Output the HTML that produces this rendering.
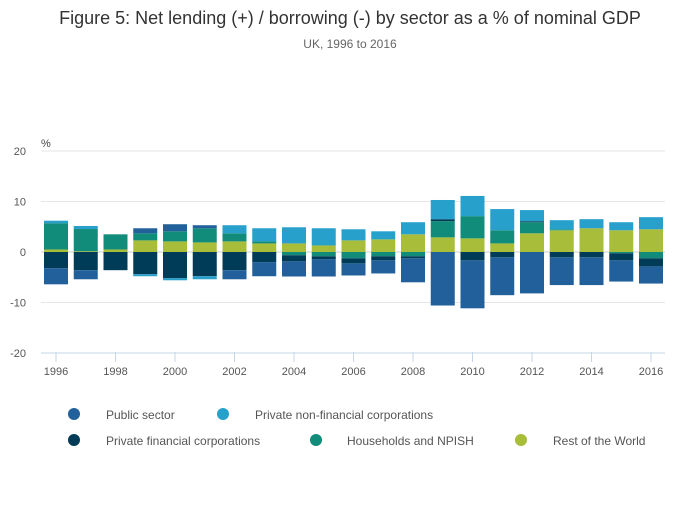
<!DOCTYPE html>
<html><head><meta charset="utf-8"><style>
body{margin:0;background:#fff;font-family:"Liberation Sans",sans-serif;}
svg text{font-family:"Liberation Sans",sans-serif;}
</style></head><body>
<svg width="700" height="502">
<text x="350" y="24" text-anchor="middle" font-size="18" fill="#333">Figure 5: Net lending (+) / borrowing (-) by sector as a % of nominal GDP</text>
<text x="350" y="48" text-anchor="middle" font-size="12" fill="#666">UK, 1996 to 2016</text>
<text x="41" y="147" font-size="11" fill="#444">%</text>
<g id="grid"></g><g id="bars"></g><g id="xaxis"></g>
<g id="legend"></g>
</svg>
<script>
const years=[1996,1997,1998,1999,2000,2001,2002,2003,2004,2005,2006,2007,2008,2009,2010,2011,2012,2013,2014,2015,2016];
const publicSector=[-3.2,-1.8,0,1.0,1.4,0.6,-1.8,-2.8,-3.0,-3.4,-2.4,-2.6,-4.75,-10.6,-9.5,-7.5,-8.2,-5.5,-5.5,-4.2,-3.4];
const privateNonFin=[0.5,0.6,0,-0.4,-0.4,-0.6,1.6,2.6,3.2,3.4,2.2,1.6,2.4,3.8,4.0,4.2,2.2,1.8,1.8,1.6,2.4];
const privateFin=[-3.2,-3.6,-3.6,-4.4,-5.2,-4.8,-3.6,-2.0,-1.2,-0.6,-1.0,-0.8,-0.4,0.4,-1.65,-1.05,0.2,-1.05,-1.05,-1.4,-1.6];
const households=[5.2,4.4,3.0,1.4,2.0,2.8,1.6,0.4,-0.65,-0.85,-1.25,-0.85,-0.85,3.2,4.4,2.6,2.2,0.2,0,-0.25,-1.25];
const restOfWorld=[0.5,0.15,0.5,2.3,2.1,1.9,2.1,1.7,1.7,1.3,2.3,2.5,3.5,2.9,2.7,1.7,3.7,4.3,4.7,4.3,4.5];
const yTicks=[20,10,0,-10,-20];
const xTicks=[1996,1998,2000,2002,2004,2006,2008,2010,2012,2014,2016];
const NS='http://www.w3.org/2000/svg';
const y=v=>252-v*5.05;
const x=yr=>56+(yr-1996)*29.75;
function mk(tag,attrs,parent){const e=document.createElementNS(NS,tag);for(const k in attrs)e.setAttribute(k,attrs[k]);parent.appendChild(e);return e;}
const grid=document.getElementById('grid');
yTicks.forEach(t=>{
  const l=mk('line',{x1:41,x2:665,y1:y(t),y2:y(t),stroke:t===-20?'#c5d5ea':(t===0?'#ccc':'#e6e6e6'),'stroke-width':1},grid);
  
  
  const tx=mk('text',{x:26,y:y(t)+4,'text-anchor':'end','font-size':11,fill:'#555'},grid);
  tx.textContent=t;
  
  
});
const xa=document.getElementById('xaxis');
xTicks.forEach(t=>{
  const l=mk('line',{x1:x(t),x2:x(t),y1:352,y2:362,stroke:'#c5d5ea'},xa);
  
  
  const tx=mk('text',{x:x(t),y:375,'text-anchor':'middle','font-size':11,fill:'#555'},xa);
  tx.textContent=t;
  
  
});
const series={public:{d:publicSector,c:'#21609a',n:'Public sector'},pnfc:{d:privateNonFin,c:'#27a0cc',n:'Private non-financial corporations'},pfc:{d:privateFin,c:'#003c57',n:'Private financial corporations'},hh:{d:households,c:'#118c7b',n:'Households and NPISH'},row:{d:restOfWorld,c:'#a8bd3a',n:'Rest of the World'}};
const posOrder=['row','hh','pfc','public','pnfc'];
const negOrder=['hh','pfc','pnfc','public'];
const bars=document.getElementById('bars');
years.forEach((yr,i)=>{
  let p=0,n=0;
  const order=[...posOrder.map(k=>[k,1]),...negOrder.map(k=>[k,-1]),['row',-1]];
  order.forEach(([k,s])=>{
    const v=series[k].d[i];
    if(s>0&&v>0){const r=mk('rect',{x:x(yr)-12,width:24,y:y(p+v),height:y(p)-y(p+v),fill:series[k].c},bars);p+=v;
      
      }
    if(s<0&&v<0){const r=mk('rect',{x:x(yr)-12,width:24,y:y(n),height:y(n+v)-y(n),fill:series[k].c},bars);n+=v;
      
      }
  });
});
const leg=document.getElementById('legend');
[['public',74,414,106],['pnfc',223,414,255],['pfc',74,440,106],['hh',316,440,347],['row',521,440,553]].forEach(([k,cx,cy,tx])=>{
  const c=mk('circle',{cx:cx,cy:cy,r:6,fill:series[k].c},leg);
  
  
  const t=mk('text',{x:tx,y:cy+5,'font-size':12,fill:'#555'},leg);
  t.textContent=series[k].n;
  
  
});
</script>
</body></html>
